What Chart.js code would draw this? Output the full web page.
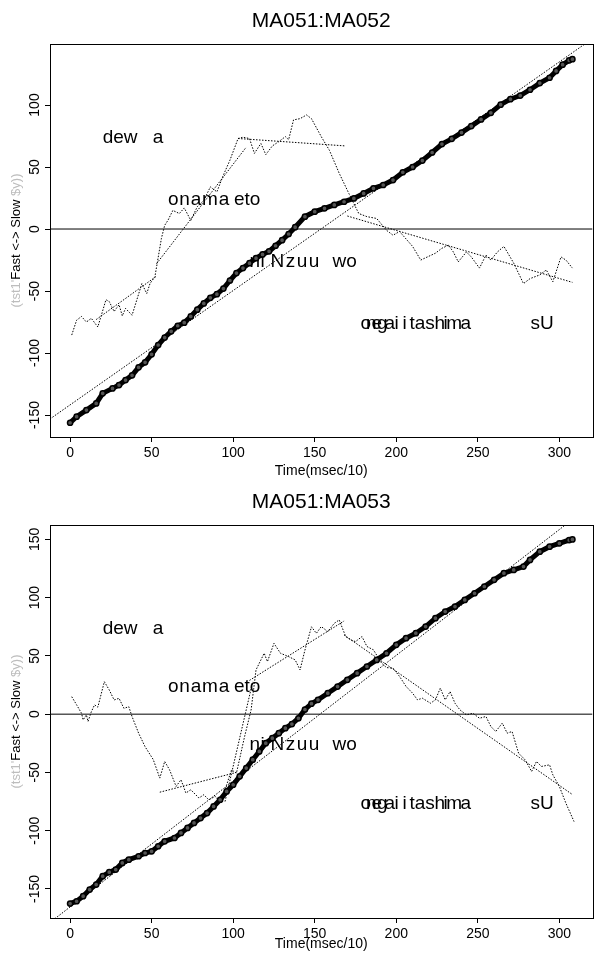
<!DOCTYPE html>
<html><head><meta charset="utf-8">
<script src="https://cdn.jsdelivr.net/npm/chart.js@4.4.1/dist/chart.umd.min.js"></script>
<style>
html,body{margin:0;padding:0;background:#fff;overflow:hidden;width:596px;height:959px;}
canvas{position:absolute;left:0;display:block;}
</style></head><body>
<canvas id="c1" width="598" height="480" style="top:0px"></canvas>
<canvas id="c2" width="598" height="479" style="top:480px"></canvas>
<script>
// ---------- data ----------
const titles = ["MA051:MA052", "MA051:MA053"];
const xTicks = [0, 50, 100, 150, 200, 250, 300];
const yTicks1 = [-150, -100, -50, 0, 50, 100];
const yTicks2 = [-150, -100, -50, 0, 50, 100, 150];
const xRange = [-12.32, 320.32];
const yRange1 = [-167.7, 149.2];
const yRange2 = [-175.0, 162.4];

// panel 1: cumulative (circles)
const time1 = [0,4,10,16,20,26,30,34,38,42,46,50,54,58,62,66,70,74,78,82,86,90,94,98,102,106,110,114,118,122,126,130,134,138,144,150,156,162,168,174,180,186,192,198,204,210,216,222,228,234,240,246,252,258,264,270,276,282,288,294,298,302,306,308];
const cum1 = [-156.2,-151.3,-146,-140.6,-132.5,-128.5,-125.8,-121.8,-118,-111.5,-107.5,-101,-93.5,-87.5,-82.5,-78,-75.5,-70.5,-65,-60,-55.5,-52.5,-48,-41.5,-35.5,-31.5,-27.5,-23.5,-20.5,-18,-13.5,-9,-4,1.5,10,14,16.7,19.4,22,24.7,28.7,32.8,35.5,39.5,45.8,50,55.2,61.7,68.5,72.7,77.8,83,88.4,93.7,100.3,104.7,107.6,112.3,117.7,122,127.5,132.5,136,137];
// panel 1: local difference (jagged dotted)
const jagT1 = [1,4,7,10,13,17,22,24,27,30,32,34,38,44,47,49,52,56,58,60,63,67,70,74,78,82,86,90,94,98,103,106,110,113,117,120,124,128,132,134,137,141,145,148,154,159,165,171,177,182,188,194,198,202,206,210,215,224,228,232,235,238,243,246,251,255,258,262,266,272,278,282,288,292,296,301,304,308];
const jagV1 = [-85.5,-73.5,-70.5,-75,-72,-79,-57,-58.5,-66.5,-61,-70,-64,-69.5,-44,-52,-44,-38.5,-7.5,3,7,15,12.5,17,7,18,23,34,30,43.5,55.5,73,74,73,61,69,60,67,70.5,74.5,72,88,89,92,89,74.5,63.5,45,28.5,12.5,10,8.5,-1,-5,-2,-8,-14,-25,-19.5,-15.5,-13,-18.5,-26.5,-18.5,-22.5,-31.5,-21,-25,-18.5,-14,-27.5,-44,-40,-37,-33,-42.5,-22.5,-25,-31.5];
// panel 1: phrase-wise fits
const segX0_1 = [16, 53, 103, 170];
const segY0_1 = [-73, -28, 73, 10.5];
const segX1_1 = [53, 108, 169, 308];
const segY1_1 = [-38, 66, 67, -43];
const fit1 = [-141.8, 0.922];   // intercept, slope

// panel 2
const time2 = [0,4,8,12,16,20,24,28,32,36,42,46,50,54,58,64,68,72,76,80,84,88,92,96,100,104,108,112,116,120,124,128,132,136,140,144,148,152,158,164,170,176,182,188,194,200,206,212,218,224,230,236,242,248,254,260,266,272,278,282,288,294,300,306,308];
const cum2 = [-162.6,-160.6,-156.3,-150.6,-146.3,-139.1,-135.7,-133.4,-127.7,-124.9,-122,-119.2,-117.8,-113.4,-109.2,-106.3,-102,-97.7,-93.4,-89.2,-84.9,-79.2,-73.5,-66.3,-60.6,-53.4,-46.3,-39.1,-32,-24.9,-20.6,-16.3,-12,-8.5,-3.5,4,9,12.3,18,23.7,29.5,35.2,40.9,46.6,52.3,59.5,65.2,69.5,75.2,82.4,88.1,92.4,98.1,103.8,109.6,115.3,121,123.8,126.7,132.4,139.5,143.8,146.7,149.5,150];
const jagT2 = [1,4,7,8,10,11,13,15,17,21,24,27,30,33,36,38,42,46,51,55,58,61,65,68,71,74,79,82,85,89,92,95,99,102,107,111,114,119,121,125,129,134,138,141,144,148,151,154,158,162,165,169,172,175,179,182,186,191,194,198,202,206,210,213,216,221,224,227,230,233,236,239,243,247,251,255,258,261,265,268,271,275,279,283,286,289,294,296,300,304,309];
const jagV2 = [15,8,0.8,-4.9,-0.6,-6.3,2,8,6,27.9,20.8,12.2,13.6,5,6.4,-2.1,-16.3,-28,-39,-54.9,-40.6,-47.8,-62,-56.3,-67.7,-64.9,-72,-69.2,-73.5,-70.6,-76.3,-64.9,-47.8,-50.6,-19.2,3.7,38,52.3,45.1,60.8,52.3,49.4,46.6,38,55,75,69.4,75.2,70.9,78,80.9,66.6,63.8,62.3,66.6,58.1,55.2,43.8,40,39.5,32.4,23.8,18,12.3,13.7,9.4,12.3,22.3,12.3,19.4,9.4,3.7,-0.6,0.8,-3.5,-2,-10.6,-14.9,-7.7,-16.3,-14.9,-33.5,-39.2,-49.2,-40.6,-44.9,-43.5,-52.1,-62.1,-76.4,-92.2];
const segX0_2 = [55, 95, 110, 168];
const segY0_2 = [-67, -75, 29, 68];
const segX1_2 = [102, 112, 168, 308];
const segY1_2 = [-50, 28, 80, -69];
const fit2 = [-165.5, 1.08];

// text annotations (data coordinates of the phrase starts)
const annoX = [20, 60, 110, 178];
const annoY = [75, 25, -25, -75];
const annoWords = [["dew","a"],["onama","eto"],["n","i","Nzuu","wo"],["oneg","ai","i","tas","hima","sU"]];

// ---------- drawing ----------
const F = "'Liberation Sans', Arial, Helvetica, sans-serif";
// piece layout (pixel offset from phrase anchor, letter spacing) for annotation words
const annoLayout = [[[0,0],[50,0]],[[0,0.8],[66,0]],[[0,0],[11,0],[21,1.5],[83,0]],[[0,-5],[24,-0.5],[42,0],[49,0],[74,-1.5],[170,0]]];

const mctx = document.createElement('canvas').getContext('2d');
mctx.font = `14px ${F}`;
const widest = Math.max(...yTicks2.map(v => mctx.measureText(String(v)).width));
const yPad = 50 - 35.5 - 5 - widest / 2;

const pts = (xs, ys) => xs.map((x, i) => ({x: x, y: ys[i]}));

const rPlugin = {
  id: 'rtext',
  beforeDatasetsDraw(chart, args, o) {
    const ctx = chart.ctx, xs = chart.scales.x, ys = chart.scales.y;
    ctx.save();
    ctx.fillStyle = '#000';
    ctx.font = `19px ${F}`;
    ctx.textAlign = 'left'; ctx.textBaseline = 'alphabetic';
    annoX.forEach((ax, i) => {
      const px = xs.getPixelForValue(ax), py = ys.getPixelForValue(annoY[i]) + 7;
      annoWords[i].forEach((w, j) => {
        const [dx, ls] = annoLayout[i][j];
        ctx.letterSpacing = ls + 'px';
        ctx.fillText(w, px + dx, py);
      });
    });
    ctx.letterSpacing = '0px';
    ctx.restore();
  },
  afterDraw(chart, args, o) {
    const ctx = chart.ctx, ca = chart.chartArea;
    ctx.save();
    ctx.strokeStyle = '#000'; ctx.lineWidth = 1;
    ctx.strokeRect(Math.round(ca.left) + 0.5, Math.round(ca.top) + 0.5, Math.round(ca.right - ca.left), Math.round(ca.bottom - ca.top));
    const cx = (ca.left + ca.right) / 2;
    ctx.fillStyle = '#000';
    ctx.textAlign = 'center'; ctx.textBaseline = 'alphabetic';
    ctx.font = `21px ${F}`;
    ctx.fillText(o.title, cx, ca.top - 17.5);
    ctx.font = `14px ${F}`;
    ctx.fillText('Time(msec/10)', cx, ca.bottom + o.xLabBase);
    // y label, rotated
    ctx.translate(15, (ca.top + ca.bottom) / 2);
    ctx.rotate(-Math.PI / 2);
    ctx.font = `13px ${F}`;
    const parts = [["(tst1'", '#bdbdbd'], ['Fast <-> Slow', '#000'], [' $y))', '#bdbdbd']];
    const tot = parts.reduce((s, p) => s + ctx.measureText(p[0]).width, 0);
    let x0 = -tot / 2;
    ctx.textAlign = 'left';
    parts.forEach(p => { ctx.fillStyle = p[1]; ctx.fillText(p[0], x0, 5); x0 += ctx.measureText(p[0]).width; });
    ctx.restore();
  }
};

function makeChart(id, title, t, v, jt, jv, sx0, sy0, sx1, sy1, fit, yR, yT, xAxisH, xLabBase) {
  const dotted = {showLine: true, borderColor: '#000', borderWidth: 1, borderDash: [1.5, 1.5], pointRadius: 0, tension: 0, fill: false};
  const ds = [];
  ds.push({data: pts(t, v), showLine: true, borderColor: '#000', borderWidth: 5, pointRadius: 2.6, pointBorderWidth: 1.5, pointBorderColor: '#000', pointBackgroundColor: '#555', tension: 0});
  ds.push(Object.assign({data: pts(jt, jv)}, dotted));
  sx0.forEach((x, i) => ds.push(Object.assign({data: [{x: x, y: sy0[i]}, {x: sx1[i], y: sy1[i]}]}, dotted)));
  ds.push(Object.assign({data: xRange.map(x => ({x: x, y: fit[0] + fit[1] * x}))}, dotted));
  ds.push({data: xRange.map(x => ({x: x, y: 0})), showLine: true, borderColor: '#000', borderWidth: 1, pointRadius: 0});
  const tickFont = {family: F, size: 14};
  return new Chart(document.getElementById(id), {
    type: 'scatter',
    data: {datasets: ds},
    plugins: [rPlugin],
    options: {
      responsive: false, animation: false, devicePixelRatio: 1, events: [],
      layout: {padding: {top: 44 + (id === 'c2' ? 1 : 0), left: 0, right: 0, bottom: 0}},
      plugins: {legend: {display: false}, tooltip: {enabled: false}, title: {display: false},
                rtext: {title: title, xLabBase: xLabBase}},
      scales: {
        x: {type: 'linear', min: xRange[0], max: xRange[1], position: 'bottom',
            afterBuildTicks: s => { s.ticks = xTicks.map(val => ({value: val})); },
            afterFit: s => { s.height = xAxisH; },
            ticks: {font: tickFont, color: '#000', padding: 2.5, minRotation: 0, maxRotation: 0, autoSkip: false},
            grid: {drawOnChartArea: false, tickLength: 5, color: '#000', lineWidth: 1},
            border: {display: true, color: '#000', width: 1}},
        y: {type: 'linear', min: yR[0], max: yR[1], position: 'left',
            afterBuildTicks: s => { s.ticks = yT.map(val => ({value: val})); },
            afterFit: s => { s.width = 50; },
            ticks: {font: tickFont, color: '#000', padding: yPad, minRotation: 90, maxRotation: 90, crossAlign: 'center', autoSkip: false},
            grid: {drawOnChartArea: false, tickLength: 5, color: '#000', lineWidth: 1},
            border: {display: true, color: '#000', width: 1}}
      }
    }
  });
}

makeChart('c1', titles[0], time1, cum1, jagT1, jagV1, segX0_1, segY0_1, segX1_1, segY1_1, fit1, yRange1, yTicks1, 43, 38);
makeChart('c2', titles[1], time2, cum2, jagT2, jagV2, segX0_2, segY0_2, segX1_2, segY1_2, fit2, yRange2, yTicks2, 41, 30);
</script>
</body></html>
